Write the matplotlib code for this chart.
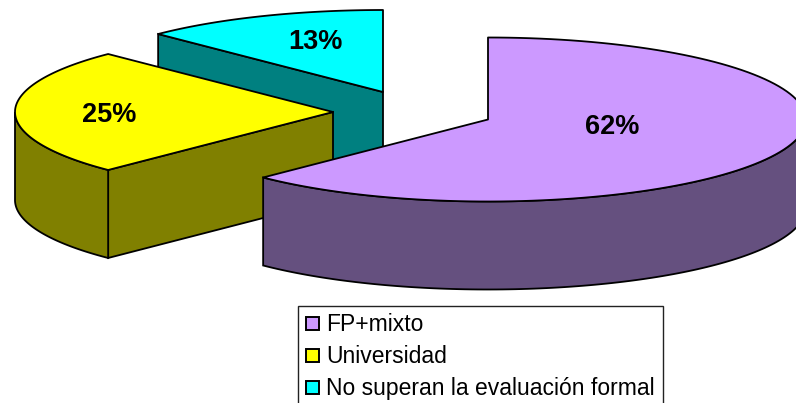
import numpy as np
import matplotlib
matplotlib.use("Agg")
import matplotlib.pyplot as plt
from matplotlib.patches import Polygon, Rectangle

plt.rcParams["font.family"] = ["Liberation Sans", "DejaVu Sans"]

# datos
categorias = ["FP+mixto", "Universidad", "No superan la evaluación formal"]
valores = [62.5, 25.0, 12.5]
etiquetas = ["62%", "25%", "13%"]
colores_top = ["#CC99FF", "#FFFF00", "#00FFFF"]
colores_lado = ["#65507F", "#808000", "#008080"]

# geometria en pixeles de la imagen
A, B = 318, 82
DEPTH = 88
centros = [(488, 119.5), (333, 112), (383, 92)]
pos_etiquetas = [(612, 127), (109.5, 115), (315.5, 42)]


def arc(cx, cy, t0, t1, dy=0, n=120):
    # t en grados, horario desde arriba
    t = np.radians(np.linspace(t0, t1, n))
    return np.column_stack([cx + A * np.sin(t), cy + dy - B * np.cos(t)])


fig = plt.figure(figsize=(7.96, 4.03), dpi=100)
ax = fig.add_axes([0, 0, 1, 1])
ax.set_xlim(0, 796)
ax.set_ylim(403, 0)
ax.axis("off")

angulos = np.cumsum([0] + valores) / sum(valores) * 360
lw = 1.3

# de atras hacia delante: cian, amarillo, morado
for i in [2, 1, 0]:
    cx, cy = centros[i]
    t0, t1 = angulos[i], angulos[i + 1]

    # pared del corte que queda a la vista
    if i in (1, 2):
        p0 = arc(cx, cy, t0, t0, n=1)[0]
        ax.add_patch(Polygon([p0, (cx, cy), (cx, cy + DEPTH), (p0[0], p0[1] + DEPTH)],
                             closed=True, fc=colores_lado[i], ec="black", lw=lw, zorder=i * -10 + 30))

    # pared exterior: solo la parte de delante de la elipse (90-270 grados)
    a0, a1 = max(t0, 90), min(t1, 270)
    if a1 > a0:
        sup = arc(cx, cy, a0, a1)
        inf = arc(cx, cy, a0, a1, dy=DEPTH)
        ax.add_patch(Polygon(np.vstack([sup, inf[::-1]]), closed=True,
                             fc=colores_lado[i], ec="black", lw=lw, zorder=i * -10 + 31))

    # cara superior
    ax.add_patch(Polygon(np.vstack([[(cx, cy)], arc(cx, cy, t0, t1)]), closed=True,
                         fc=colores_top[i], ec="black", lw=lw, joinstyle="round",
                         zorder=i * -10 + 32))

    ax.text(*pos_etiquetas[i], etiquetas[i], fontsize=19.5, fontweight="bold",
            ha="center", va="center", color="black", zorder=50)

# leyenda
ax.add_patch(Rectangle((298, 306), 365, 110, fc="white", ec="#222222", lw=1.0, zorder=60))
for cat, col, yy in zip(categorias, colores_top, [323.5, 355.5, 387.5]):
    ax.add_patch(Rectangle((305.5, yy - 6.5), 13, 13, fc=col, ec="black", lw=1.4, zorder=61))
    ax.text(326, yy + 1, cat, fontsize=16.5, va="center", ha="left", color="black", zorder=61)

fig.savefig("out.png", dpi=100)
